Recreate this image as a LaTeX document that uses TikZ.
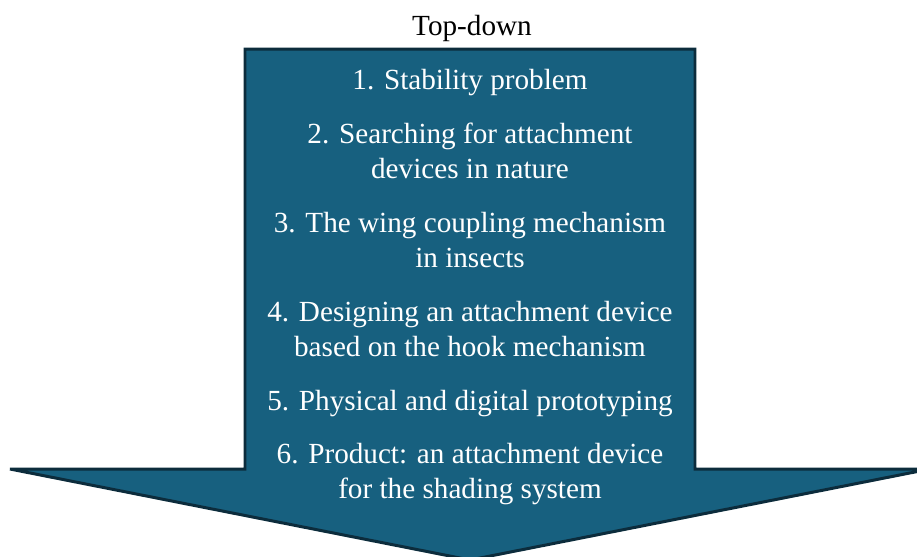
\documentclass[tikz,border=0pt]{standalone}
\usepackage{fontspec}
\setmainfont{Liberation Serif}
\usetikzlibrary{positioning}

\definecolor{arrowfill}{HTML}{17607F}
\definecolor{arrowline}{HTML}{0C2C3C}

\begin{document}
\begin{tikzpicture}[%
        x = 0.01cm, y = -0.01cm,
        stage/.style = {%
            align = center,
            text = white,
            inner sep = 0pt,
            font = \fontsize{8.3}{9.85}\selectfont
        }
    ]

        % Page frame; the arrow tip runs past the lower edge.
        \clip (0,0) rectangle (917,556);

        % The corners of the big arrow.
        \coordinate (tl) at (245,49);
        \coordinate (tr) at (695,49);
        \coordinate (sr) at (695,469);
        \coordinate (hr) at (930,469);
        \coordinate (tip) at (470,560);
        \coordinate (hl) at (10,469);
        \coordinate (sl) at (245,469);

        % The arrow itself.
        \draw[fill = arrowfill, draw = arrowline, line width = 0.85pt, line join = miter]
            (tl) -- (tr) -- (sr) -- (hr) -- (tip) -- (hl) -- (sl) -- cycle;

        % Heading above the arrow.
        \node (title) at (472,28) [stage, text = black] {Top-down};

        % The stages, top to bottom.
        \node (s1) at (470,83) [stage] {1. Stability problem};
        \node (s2) at (470,151) [stage] {2. Searching for attachment\\devices in nature};
        \node (s3) at (470,240) [stage] {3. The wing coupling mechanism\\in insects};
        \node (s4) at (470,329) [stage] {4. Designing an attachment device\\based on the hook mechanism};
        \node (s5) at (470,404) [stage] {5. Physical and digital prototyping};
        \node (s6) at (470,474) [stage] {6. Product: an attachment device\\for the shading system};
    \end{tikzpicture}
\end{document}
